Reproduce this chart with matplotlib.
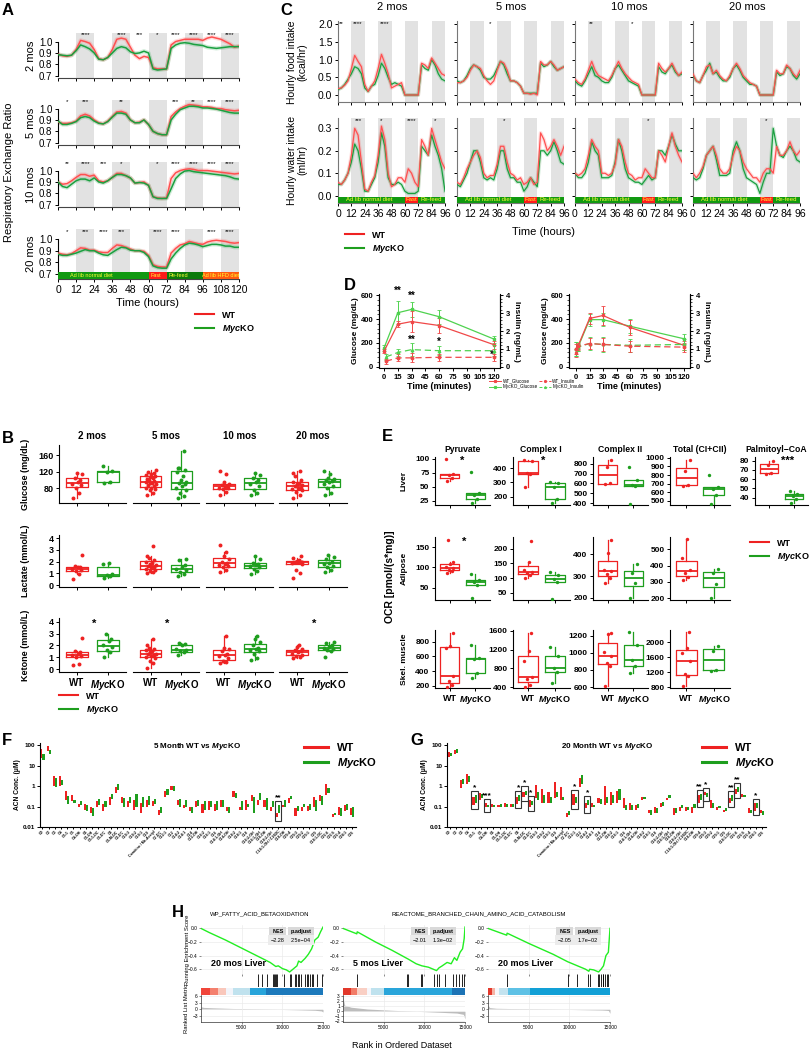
import numpy as np
import matplotlib
matplotlib.use("Agg")
import matplotlib.pyplot as plt
from matplotlib.patches import Rectangle
from matplotlib.lines import Line2D
from matplotlib.ticker import NullLocator, AutoMinorLocator

plt.rcParams['font.family'] = ['Liberation Sans', 'DejaVu Sans']
plt.rcParams['mathtext.fontset'] = 'custom'
plt.rcParams['mathtext.it'] = 'Liberation Sans:italic:bold'
plt.rcParams['mathtext.rm'] = 'Liberation Sans:bold'
plt.rcParams['axes.linewidth'] = 0.8
plt.rcParams['xtick.major.width'] = 0.7
plt.rcParams['ytick.major.width'] = 0.7
plt.rcParams['xtick.major.size'] = 2.5
plt.rcParams['ytick.major.size'] = 2.5
plt.rcParams['xtick.major.pad'] = 1.5
plt.rcParams['ytick.major.pad'] = 1.5

W, H = 811, 1050
fig = plt.figure(figsize=(W / 100, H / 100), dpi=100)

RED = "#ee2222"
GREEN = "#1e9e1e"
RED_L = "#ff5050"
GREEN_L = "#1aa040"
SHADE = "#e2e2e2"
MYC = r"$\it{Myc}$KO"


def px_ax(x0, y0, x1, y1):
    # pixel box (top-left origin) -> axes
    return fig.add_axes([x0 / W, 1 - y1 / H, (x1 - x0) / W, (y1 - y0) / H])


def ftext(x, y, s, **kw):
    fig.text(x / W, 1 - y / H, s, **kw)


def bold_ticks(ax):
    for t in ax.get_xticklabels() + ax.get_yticklabels():
        t.set_fontweight('bold')


def clean(ax, left=True):
    ax.spines['top'].set_visible(False)
    ax.spines['right'].set_visible(False)
    if not left:
        ax.spines['left'].set_visible(False)


# ---------------- data: A (RER, every 3 h) ----------------
t_a = list(range(0, 121, 3))
rer_wt_2 = [0.89, 0.875, 0.87, 0.88, 0.93, 1.01, 1.0, 0.985, 0.93, 0.85,
            0.84, 0.86, 0.93, 1.02, 1.03, 1.02, 0.95, 0.88, 0.85, 0.87,
            0.86, 0.77, 0.76, 0.76, 0.76, 0.97, 1.0, 1.01, 1.02, 1.02,
            1.02, 1.02, 1.01, 1.03, 1.04, 1.03, 1.02, 1.0, 0.98, 0.95, 0.96]
rer_ko_2 = [0.885, 0.88, 0.875, 0.88, 0.92, 0.97, 0.955, 0.935, 0.9, 0.845,
            0.84, 0.86, 0.9, 0.94, 0.955, 0.945, 0.91, 0.895, 0.9, 0.915,
            0.9, 0.76, 0.75, 0.755, 0.76, 0.94, 0.97, 0.985, 0.99, 0.985,
            0.975, 0.97, 0.965, 0.95, 0.945, 0.94, 0.945, 0.95, 0.955, 0.955, 0.955]
rer_wt_5 = [0.88, 0.87, 0.87, 0.875, 0.89, 0.935, 0.95, 0.935, 0.9, 0.875,
            0.865, 0.89, 0.93, 0.97, 0.975, 0.96, 0.9, 0.875, 0.88, 0.9,
            0.86, 0.8, 0.78, 0.77, 0.77, 0.93, 0.97, 1.0, 1.02, 1.035,
            1.03, 1.025, 1.015, 1.015, 1.01, 1.0, 1.0, 0.99, 0.985, 0.98, 0.985]
rer_ko_5 = [0.89, 0.86, 0.86, 0.87, 0.885, 0.92, 0.93, 0.92, 0.89, 0.87,
            0.865, 0.885, 0.925, 0.96, 0.96, 0.95, 0.9, 0.875, 0.875, 0.9,
            0.86, 0.8, 0.78, 0.77, 0.77, 0.9, 0.95, 0.99, 1.005, 1.02,
            1.02, 1.015, 1.005, 1.005, 1.0, 0.995, 0.985, 0.975, 0.965, 0.96, 0.96]
rer_wt_10 = [0.9, 0.88, 0.885, 0.91, 0.94, 0.965, 0.965, 0.95, 0.96, 0.91,
             0.9, 0.91, 0.94, 0.975, 0.975, 0.955, 0.935, 0.89, 0.895, 0.9,
             0.87, 0.77, 0.76, 0.755, 0.76, 0.93, 0.98, 1.0, 1.01, 1.015,
             1.01, 1.0, 1.0, 1.0, 0.995, 0.99, 0.985, 0.98, 0.975, 0.97, 0.975]
rer_ko_10 = [0.9, 0.86, 0.85, 0.88, 0.91, 0.925, 0.925, 0.91, 0.935, 0.9,
             0.89, 0.91, 0.94, 0.965, 0.965, 0.955, 0.935, 0.89, 0.895, 0.89,
             0.87, 0.77, 0.755, 0.755, 0.755, 0.84, 0.93, 0.97, 0.995, 1.0,
             0.99, 0.985, 0.98, 0.975, 0.97, 0.965, 0.96, 0.955, 0.945, 0.93, 0.925]
rer_wt_20 = [0.88, 0.87, 0.865, 0.875, 0.9, 0.925, 0.92, 0.905, 0.905, 0.89,
             0.885, 0.885, 0.92, 0.95, 0.945, 0.93, 0.915, 0.9, 0.9, 0.895,
             0.86, 0.78, 0.765, 0.76, 0.76, 0.88, 0.92, 0.95, 0.96, 0.98,
             0.97, 0.96, 0.955, 0.975, 0.985, 0.99, 0.985, 0.98, 0.97, 0.965, 0.97]
rer_ko_20 = [0.87, 0.86, 0.86, 0.87, 0.88, 0.895, 0.91, 0.9, 0.9, 0.88,
             0.865, 0.86, 0.885, 0.91, 0.93, 0.925, 0.905, 0.9, 0.9, 0.885,
             0.85, 0.77, 0.755, 0.75, 0.75, 0.83, 0.88, 0.92, 0.95, 0.965,
             0.96, 0.95, 0.935, 0.945, 0.955, 0.955, 0.95, 0.94, 0.94, 0.93, 0.93]
stars_a_2 = [(18, '****'), (42, '****'), (54, '***'), (66, '*'), (78, '****'),
             (90, '****'), (102, '****'), (114, '****')]
stars_a_5 = [(6, '*'), (18, '***'), (42, '**'), (78, '***'), (90, '**'),
             (102, '****'), (114, '****')]
stars_a_10 = [(6, '**'), (18, '****'), (30, '***'), (42, '*'), (66, '*'),
              (78, '****'), (90, '****'), (102, '****'), (114, '****')]
stars_a_20 = [(6, '*'), (18, '***'), (30, '****'), (42, '***'), (66, '****'),
              (78, '****'), (102, '****'), (114, '****')]
diet_a = [(0, 60, "Ad lib normal diet", 22, "#119911"), (60, 72, "Fast", 65, "#ff1a1a"),
          (72, 96, "Re-feed", 80, "#0b7a0b"), (96, 120, "Ad lib HFD diet", 108, "#ff5a10")]

# ---------------- data: C (food / water, every 3 h) ----------------
t_c = list(range(0, 97, 3))
food_wt = [
    [0.18, 0.2, 0.28, 0.4, 0.75, 1.12, 0.95, 0.8, 0.3, 0.1,
     0.25, 0.4, 0.75, 1.15, 0.9, 0.6, 0.2, 0.25, 0.3, 0.35,
     0.0, 0.0, 0.0, 0.0, 0.0, 0.9, 0.85, 0.75, 1.05, 0.9, 0.75, 0.6, 0.55],
    [0.35, 0.35, 0.4, 0.5, 0.7, 0.85, 0.8, 0.75, 0.55, 0.4,
     0.3, 0.4, 0.7, 0.95, 0.9, 0.7, 0.4, 0.4, 0.35, 0.25,
     0.05, 0.05, 0.02, 0.05, 0.0, 0.95, 0.85, 0.85, 0.95, 0.85, 0.7, 0.75, 0.8],
    [0.45, 0.35, 0.3, 0.45, 0.7, 0.95, 0.7, 0.55, 0.5, 0.45,
     0.4, 0.55, 0.75, 0.95, 0.75, 0.6, 0.5, 0.4, 0.35, 0.3,
     0.0, 0.0, 0.0, 0.0, 0.0, 0.9, 0.75, 0.65, 0.75, 0.9, 0.7, 0.55, 0.65],
    [0.6, 0.4, 0.35, 0.55, 0.8, 0.85, 0.6, 0.7, 0.55, 0.45,
     0.4, 0.55, 0.75, 0.9, 0.75, 0.55, 0.45, 0.35, 0.3, 0.25,
     0.0, 0.0, 0.0, 0.0, 0.0, 0.7, 0.6, 0.6, 0.85, 0.75, 0.6, 0.5, 0.7]]
food_ko = [
    [0.15, 0.2, 0.3, 0.45, 0.6, 0.8, 0.75, 0.6, 0.2, 0.1,
     0.25, 0.3, 0.55, 0.9, 0.75, 0.5, 0.3, 0.35, 0.3, 0.25,
     0.0, 0.0, 0.0, 0.0, 0.0, 0.85, 0.75, 0.7, 1.0, 0.85, 0.6, 0.45, 0.4],
    [0.4, 0.35, 0.4, 0.55, 0.75, 0.85, 0.8, 0.7, 0.5, 0.45,
     0.45, 0.55, 0.75, 0.95, 0.85, 0.6, 0.4, 0.4, 0.35, 0.25,
     0.05, 0.05, 0.05, 0.05, 0.05, 0.9, 0.8, 0.85, 0.95, 0.8, 0.7, 0.75, 0.8],
    [0.4, 0.3, 0.25, 0.4, 0.6, 0.8, 0.55, 0.5, 0.4, 0.35,
     0.35, 0.5, 0.75, 0.85, 0.7, 0.55, 0.4, 0.35, 0.3, 0.25,
     0.0, 0.0, 0.0, 0.0, 0.0, 0.8, 0.65, 0.6, 0.75, 0.85, 0.65, 0.55, 0.6],
    [0.55, 0.4, 0.35, 0.55, 0.7, 0.9, 0.6, 0.65, 0.5, 0.4,
     0.4, 0.5, 0.75, 0.85, 0.7, 0.5, 0.4, 0.3, 0.3, 0.25,
     0.0, 0.0, 0.0, 0.0, 0.0, 0.65, 0.55, 0.6, 0.8, 0.75, 0.55, 0.45, 0.6]]
water_wt = [
    [0.06, 0.05, 0.07, 0.1, 0.18, 0.3, 0.27, 0.15, 0.03, 0.02,
     0.06, 0.09, 0.18, 0.31, 0.25, 0.1, 0.04, 0.05, 0.08, 0.08,
     0.06, 0.12, 0.1, 0.06, 0.04, 0.25, 0.22, 0.18, 0.3, 0.25, 0.2, 0.15, 0.12],
    [0.06, 0.05, 0.08, 0.12, 0.15, 0.18, 0.2, 0.17, 0.1, 0.08,
     0.09, 0.09, 0.14, 0.22, 0.22, 0.15, 0.1, 0.09, 0.07, 0.08,
     0.05, 0.06, 0.08, 0.05, 0.06, 0.28, 0.25, 0.2, 0.22, 0.25, 0.22, 0.18, 0.22],
    [0.1, 0.09, 0.1, 0.12, 0.18, 0.25, 0.22, 0.2, 0.1, 0.1,
     0.09, 0.1, 0.14, 0.25, 0.22, 0.15, 0.1, 0.09, 0.07, 0.08,
     0.08, 0.12, 0.1, 0.08, 0.08, 0.2, 0.18, 0.15, 0.22, 0.28, 0.22, 0.18, 0.15],
    [0.1, 0.08, 0.1, 0.13, 0.18, 0.2, 0.22, 0.18, 0.12, 0.1,
     0.1, 0.12, 0.18, 0.22, 0.2, 0.15, 0.12, 0.1, 0.08, 0.08,
     0.06, 0.1, 0.12, 0.12, 0.1, 0.22, 0.18, 0.18, 0.2, 0.24, 0.2, 0.18, 0.2]]
water_ko = [
    [0.05, 0.05, 0.07, 0.1, 0.15, 0.23, 0.2, 0.12, 0.02, 0.02,
     0.05, 0.08, 0.15, 0.28, 0.22, 0.08, 0.05, 0.05, 0.06, 0.05,
     0.02, 0.01, 0.01, 0.01, 0.02, 0.22, 0.2, 0.18, 0.27, 0.22, 0.18, 0.12, 0.02],
    [0.05, 0.04, 0.07, 0.1, 0.15, 0.2, 0.2, 0.15, 0.08, 0.07,
     0.08, 0.07, 0.12, 0.2, 0.2, 0.12, 0.08, 0.08, 0.06, 0.06,
     0.02, 0.04, 0.08, 0.06, 0.04, 0.2, 0.2, 0.18, 0.2, 0.24, 0.2, 0.15, 0.14],
    [0.1, 0.08, 0.08, 0.1, 0.15, 0.24, 0.2, 0.18, 0.08, 0.08,
     0.08, 0.09, 0.15, 0.25, 0.2, 0.12, 0.08, 0.07, 0.06, 0.06,
     0.05, 0.07, 0.09, 0.07, 0.08, 0.2, 0.2, 0.18, 0.22, 0.27, 0.23, 0.2, 0.2],
    [0.08, 0.07, 0.08, 0.12, 0.18, 0.2, 0.22, 0.16, 0.09, 0.09,
     0.09, 0.1, 0.2, 0.24, 0.2, 0.12, 0.08, 0.07, 0.06, 0.05,
     0.01, 0.06, 0.1, 0.1, 0.3, 0.22, 0.18, 0.17, 0.2, 0.22, 0.2, 0.16, 0.15]]
stars_food = [[(3, '**'), (18, '****'), (42, '****')], [(30, '*')], [(15, '**'), (51, '*')], []]
stars_water = [[(18, '***'), (39, '*'), (66, '****'), (87, '*')], [(42, '*')], [(66, '*')], [(66, '*')]]
ages = ["2 mos", "5 mos", "10 mos", "20 mos"]
diet_c = [(0, 60, "Ad lib normal diet", 28, "#119911"), (60, 72, "Fast", 66, "#ff1a1a"),
          (72, 96, "Re-feed", 84, "#119911")]

# ---------------- data: D (GTT) ----------------
d_t_L = [0, 15, 30, 60, 120]
glu_wt_L = [130, 357, 379, 346, 185]
glu_wt_L_err = [15, 25, 90, 65, 35]
glu_ko_L = [158, 453, 481, 420, 232]
glu_ko_L_err = [25, 95, 60, 60, 30]
ins_t_L = [2, 15, 30, 60, 120]
ins_wt_L = [0.31, 0.5, 0.5, 0.53, 0.53]
ins_wt_L_err = [0.15, 0.2, 0.25, 0.2, 0.2]
ins_ko_L = [0.55, 0.8, 0.96, 0.9, 0.9]
ins_ko_L_err = [0.15, 0.2, 0.35, 0.25, 0.3]
d_t_R = [0, 2, 15, 30, 60, 120]
glu_wt_R = [115, 170, 405, 430, 330, 180]
glu_wt_R_err = [30, 20, 45, 80, 65, 40]
glu_ko_R = [150, 160, 395, 395, 340, 235]
glu_ko_R_err = [60, 25, 50, 55, 60, 40]
ins_wt_R = [1.0, 1.15, 1.3, 1.25, 1.15, 1.1]
ins_wt_R_err = [0.3, 0.2, 0.3, 0.35, 0.3, 0.25]
ins_ko_R = [1.0, 1.1, 1.3, 1.25, 1.2, 1.25]
ins_ko_R_err = [0.4, 0.2, 0.35, 0.4, 0.35, 0.3]
stars_d = [(15, 636, '**'), (30, 591, '**'), (30, 227, '**'), (60, 205, '*'), (118, 97, '*')]

# ---------------- data: B (blood metabolites) ----------------
b_glu_wt = [[58, 68, 82, 88, 90, 95, 100, 105, 115, 118],
            [65, 70, 75, 78, 80, 82, 85, 88, 90, 92, 94, 96, 98, 100, 102, 105, 108, 110, 112, 115, 118, 120, 125],
            [65, 72, 78, 80, 82, 84, 86, 88, 90, 95, 115, 122],
            [58, 65, 72, 75, 78, 80, 82, 85, 88, 90, 93, 95, 100, 110, 118, 122]]
b_glu_ko = [[92, 95, 120, 122, 133],
            [58, 62, 70, 75, 80, 85, 90, 92, 95, 100, 110, 120, 125, 128, 130, 170],
            [65, 70, 75, 85, 90, 95, 100, 105, 112, 118],
            [65, 70, 80, 85, 90, 95, 98, 100, 102, 105, 115, 122]]
b_lac_wt = [[0.5, 0.9, 1.2, 1.3, 1.4, 1.5, 1.5, 1.6, 2.6],
            [1.0, 1.1, 1.2, 1.3, 1.4, 1.5, 1.5, 1.6, 1.7, 1.8, 1.9, 2.0, 2.1, 2.3, 2.5, 3.3],
            [1.1, 1.3, 1.5, 1.6, 1.7, 1.8, 1.9, 2.0, 2.2, 2.5, 2.8, 3.4],
            [0.6, 1.0, 1.3, 1.8, 1.9, 1.95, 2.0, 2.0, 2.0, 2.05, 2.1, 2.3, 2.5]]
b_lac_ko = [[0.6, 0.75, 0.85, 0.9, 1.8, 1.9],
            [0.8, 0.9, 1.1, 1.3, 1.4, 1.5, 1.7, 2.1, 2.2],
            [0.9, 1.2, 1.4, 1.5, 1.6, 1.7, 1.8, 1.9, 2.2, 2.5],
            [1.1, 1.3, 1.5, 1.6, 1.8, 1.9, 2.0, 2.2, 2.4, 2.6]]
b_ket_wt = [[0.3, 0.4, 1.0, 1.1, 1.2, 1.3, 1.4, 1.5, 2.6],
            [0.1, 0.5, 0.7, 0.9, 1.0, 1.1, 1.2, 1.3, 1.3, 1.4, 1.5, 1.6, 1.7, 1.8, 2.0, 2.5],
            [0.5, 0.6, 0.7, 0.9, 1.1, 1.2, 1.3, 1.5, 1.7, 1.8, 2.8],
            [0.9, 1.0, 1.1, 1.2, 1.3, 1.4, 1.5, 1.6, 1.7, 1.9, 2.0]]
b_ket_ko = [[1.0, 1.4, 1.6, 1.9, 2.0, 2.4, 2.5, 3.0],
            [1.2, 1.4, 1.5, 1.6, 1.7, 2.0, 2.1, 2.2],
            [0.8, 0.9, 1.3, 1.5, 1.6, 1.7, 1.8, 2.0, 2.3, 2.5, 2.8],
            [1.0, 1.5, 1.6, 1.7, 1.8, 1.9, 2.0, 2.2, 2.3]]
b_ket_stars = [(0, '*'), (1, '*'), (3, '*')]

# ---------------- data: E (OCR) ----------------
e_subs = ["Pyruvate", "Complex I", "Complex II", "Total (CI+CII)", "Palmitoyl\u2212CoA"]
e_liver_wt = [[60, 65, 70, 72, 99], [270, 360, 365, 450, 460], [590, 600, 770, 840],
              [675, 685, 845, 980], [66, 67, 75, 80]]
e_liver_ko = [[20, 28, 35, 38, 77], [155, 180, 265, 295, 305], [390, 570, 580, 640, 770],
              [460, 570, 640, 660, 805], [34, 39, 42, 44, 47]]
e_adip_wt = [[87, 92, 95, 98, 100, 108, 113, 168], [100, 112, 118, 122, 128, 155, 228],
             [270, 290, 310, 325, 330, 405, 465], [310, 330, 355, 375, 445, 560]]
e_adip_ko = [[25, 58, 65, 70, 85], [30, 85, 95, 112, 120], [200, 270, 315, 355], [200, 290, 355, 380]]
e_musc_wt = [[180, 210, 260, 340, 720, 740, 920], [400, 440, 580, 620, 950, 1180, 1560],
             [610, 850, 880, 960, 1010, 1220, 1230], [840, 1100, 1150, 1500, 1720, 1860, 2280]]
e_musc_ko = [[300, 380, 560, 580, 750], [490, 720, 800, 1060, 1260], [760, 850, 920, 1090, 1240],
             [1230, 1270, 1780, 1900]]
e_liver_ticks = [[25, 50, 75, 100], [200, 300, 400], [400, 500, 600, 700, 800],
                 [500, 600, 700, 800, 900, 1000], [40, 50, 60, 70, 80]]
e_liver_lim = [(17, 103), (140, 480), (380, 870), (450, 1010), (32, 84)]
e_adip_ticks = [[50, 100, 150], [50, 100, 150, 200], [200, 300, 400], [200, 300, 400, 500]]
e_adip_lim = [(20, 175), (25, 240), (190, 480), (190, 575)]
e_musc_ticks = [[200, 400, 600, 800], [400, 800, 1200, 1600], [600, 800, 1000, 1200], [800, 1200, 1600, 2000]]
e_musc_lim = [(170, 960), (380, 1620), (590, 1265), (780, 2330)]
e_liver_stars = [(0, 1.5, '*'), (1, 1.55, '*'), (4, 1.75, '***')]
e_adip_stars = [(0, 1.55, '*')]

# ---------------- data: F / G (acylcarnitines) ----------------
acn_names = ["C0", "C2", "C3", "C4", "C5:1", "C5", "C4-OH", "C6", "C5-OH", "C5:1-DC",
             "C5-DC", "C8", "C5-M-DC", "C3-DC", "C10:3", "C10:2", "C10:1", "C10",
             "Carnitine / Me-Acetyl", "C7-DC", "C12:1", "C12", "C14:2", "C14:1", "C14",
             "C12-OH", "C16:2", "C16:1", "C16", "C14:1-OH", "C14-OH", "C18:2", "C18:1",
             "C18", "C16:2-OH", "C16:1-OH", "C16-OH", "C18:2-OH", "C18:1-OH / C16DC",
             "C18-OH", "C20:4", "C20:3", "C20:2", "C20:1", "C20", "C18:1-DC", "C22:6",
             "C22:5", "C22:4", "C24:1", "C26"]
f_red_lo = [24, 50, 1.0, 1.0, 0.2, 0.18, 0.1, 0.07, 0.05, 0.09, 0.06, 0.12, 0.45, 0.15, 0.09,
            0.07, 0.05, 0.09, 0.11, 0.04, 0.3, 0.65, 0.12, 0.08, 0.06, 0.1, 0.05, 0.07, 0.06,
            0.09, 0.06, 0.3, 0.07, 0.07, 0.18, 0.12, 0.09, 0.06, 0.03, 0.09, 0.15, 0.035,
            0.06, 0.06, 0.1, 0.18, 0.38, 0.03, 0.04, 0.06, 0.04]
f_red_hi = [61, 90, 3.2, 3.0, 0.55, 0.38, 0.14, 0.14, 0.09, 0.18, 0.14, 0.3, 0.9, 0.3, 0.18,
            0.2, 0.15, 0.2, 0.18, 0.07, 0.55, 1.0, 0.2, 0.12, 0.1, 0.18, 0.14, 0.18, 0.13,
            0.2, 0.1, 0.55, 0.09, 0.2, 0.38, 0.2, 0.2, 0.1, 0.05, 0.12, 0.25, 0.08,
            0.1, 0.11, 0.3, 0.38, 1.2, 0.045, 0.1, 0.12, 0.08]
f_grn_lo = [18, 35, 0.9, 1.1, 0.14, 0.15, 0.12, 0.06, 0.035, 0.12, 0.09, 0.22, 0.65, 0.1, 0.15,
            0.09, 0.1, 0.12, 0.14, 0.05, 0.37, 0.6, 0.09, 0.09, 0.05, 0.11, 0.07, 0.09, 0.07,
            0.1, 0.05, 0.26, 0.07, 0.09, 0.05, 0.2, 0.07, 0.09, 0.05, 0.1, 0.22, 0.06,
            0.09, 0.07, 0.06, 0.12, 0.45, 0.04, 0.035, 0.07, 0.03]
f_grn_hi = [35, 60, 2.5, 2.0, 0.33, 0.2, 0.18, 0.12, 0.08, 0.22, 0.18, 0.42, 1.2, 0.26, 0.3,
            0.42, 0.3, 0.33, 0.22, 0.1, 0.7, 0.95, 0.22, 0.2, 0.09, 0.2, 0.18, 0.18, 0.18,
            0.2, 0.1, 0.45, 0.18, 0.14, 0.3, 0.45, 0.26, 0.18, 0.12, 0.2, 0.33, 0.11,
            0.14, 0.14, 0.2, 0.33, 0.8, 0.05, 0.08, 0.14, 0.1]
f_boxes = [(38, '**')]
g_red_lo = [25, 35, 0.8, 1.3, 0.12, 0.2, 0.1, 0.09, 0.09, 0.09, 0.09, 0.13, 0.3, 0.1, 0.25,
            0.15, 0.15, 0.25, 0.2, 0.03, 0.12, 0.9, 0.08, 0.1, 0.15, 0.12, 0.12, 0.15, 0.08,
            0.07, 0.07, 0.2, 0.05, 0.05, 0.1, 0.2, 0.04, 0.06, 0.06, 0.05, 0.15, 0.35,
            0.08, 0.07, 0.055, 0.15, 0.4, 0.3, 0.05, 0.06, 0.05]
g_red_hi = [45, 60, 2.0, 4.0, 0.3, 0.45, 0.15, 0.13, 0.12, 0.15, 0.13, 0.3, 0.5, 0.2, 1.1,
            0.7, 0.5, 1.5, 0.9, 0.05, 0.4, 2.5, 0.15, 0.15, 0.25, 1.0, 0.5, 0.6, 0.25,
            0.15, 0.12, 0.3, 0.07, 0.1, 0.15, 0.25, 0.08, 0.1, 0.1, 0.1, 0.35, 0.5,
            0.2, 0.1, 0.07, 0.25, 0.7, 0.4, 0.08, 0.15, 0.07]
g_grn_lo = [28, 40, 1.2, 1.5, 0.15, 0.25, 0.09, 0.09, 0.1, 0.1, 0.1, 0.18, 0.35, 0.12, 0.2,
            0.15, 0.15, 0.3, 0.2, 0.04, 0.15, 1.2, 0.12, 0.09, 0.13, 0.15, 0.15, 0.2, 0.07,
            0.07, 0.08, 0.22, 0.04, 0.05, 0.11, 0.25, 0.05, 0.08, 0.07, 0.08, 0.2, 0.3,
            0.08, 0.08, 0.06, 0.18, 0.5, 0.3, 0.05, 0.08, 0.04]
g_grn_hi = [40, 65, 2.3, 3.0, 0.35, 0.4, 0.12, 0.12, 0.13, 0.14, 0.14, 0.35, 0.6, 0.18, 0.5,
            0.35, 0.3, 0.5, 0.3, 0.06, 0.3, 3.5, 0.2, 0.12, 0.22, 0.3, 0.35, 0.7, 0.12,
            0.12, 0.13, 0.3, 0.07, 0.08, 0.16, 0.35, 0.08, 0.12, 0.1, 0.14, 0.4, 0.45,
            0.15, 0.11, 0.08, 0.35, 0.9, 0.38, 0.07, 0.15, 0.06]
g_boxes = [(4, '*'), (6, '***'), (11, '*'), (12, '*'), (13, '*'), (20, '*'), (22, '*'),
           (40, '**'), (41, '*'), (45, '**'), (46, '**'), (49, '*')]

# ---------------- data: H (GSEA) ----------------
gsea_titles = ["WP_FATTY_ACID_BETAOXIDATION", "REACTOME_BRANCHED_CHAIN_AMINO_ACID_CATABOLISM", ""]
gsea_tags = ["20 mos Liver", "5 mos Liver", "20 mos Liver"]
gsea_nes = ["\u22122.28", "\u22122.01", "\u22122.05"]
gsea_padj = ["2.5e\u221204", "1.3e\u221202", "1.7e\u221202"]
es_x = [[0, 1000, 3000, 5000, 7000, 8500, 9200, 9500, 10000, 10500, 10900, 11300, 11800, 12000,
         12300, 12800, 13200, 13600, 14000, 14400, 14700, 15000],
        [0, 1700, 1750, 4000, 6000, 8000, 9000, 9700, 10500, 11500, 11800, 12200, 12800, 13300,
         13700, 14000, 14400, 14700, 14900, 15000],
        [0, 2300, 2350, 5000, 8000, 9800, 10000, 11000, 12000, 12400, 12500, 13000, 13600, 13900,
         14200, 14500, 14800, 15000]]
es_y = [[0.0, -0.06, -0.17, -0.29, -0.41, -0.5, -0.56, -0.55, -0.59, -0.61, -0.64, -0.6, -0.55,
         -0.48, -0.5, -0.44, -0.38, -0.3, -0.17, -0.13, -0.05, 0.02],
        [0.0, -0.08, -0.05, -0.2, -0.32, -0.45, -0.52, -0.55, -0.57, -0.62, -0.58, -0.55, -0.5,
         -0.52, -0.43, -0.47, -0.35, -0.3, -0.15, 0.02],
        [0.0, -0.1, -0.07, -0.22, -0.38, -0.49, -0.5, -0.55, -0.6, -0.63, -0.6, -0.61, -0.64,
         -0.6, -0.55, -0.4, -0.35, 0.0]]
hits = [[7050, 7500, 8150, 8800, 9000, 9100, 9200, 9300, 10200, 11000, 11100, 11500, 11700,
         11900, 12100, 12300, 12800, 13000, 13200, 13400, 13600, 13800, 14300, 14900],
        [1700, 7900, 8000, 9600, 9700, 11200, 11500, 11800, 12600, 13500, 13900, 14300, 14600, 14900],
        [2300, 9800, 11000, 12300, 12500, 13500, 13700, 13900, 14100, 14200, 14400, 14600, 14800, 15000]]
cbar = [[(0, 1100, '#f0453a'), (1100, 2100, '#f4806e'), (2100, 3100, '#f9c7bb'), (3100, 3950, '#f2f4fa'),
         (3950, 6000, '#c0e2ee'), (6000, 8050, '#27a4da'), (8050, 15000, '#1c79bb')],
        [(0, 950, '#e2382b'), (950, 1700, '#f27c68'), (1700, 2900, '#f9cfc4'), (2900, 3400, '#f6f6fb'),
         (3400, 5000, '#bfe2ee'), (5000, 13400, '#29a5da'), (13400, 15000, '#1c73b5')],
        [(0, 480, '#e43a2d'), (480, 900, '#f6b3a5'), (900, 1350, '#f7f7fb'), (1350, 2500, '#c3e3ef'),
         (2500, 5200, '#5ec1e5'), (5200, 15000, '#12a0d6')]]
rank_x = [[0, 300, 1500, 4000, 7000, 9500, 12000, 14000, 14800, 15000],
          [0, 200, 1000, 3000, 6000, 9000, 12000, 14000, 14800, 15000],
          [0, 200, 1000, 4000, 8000, 11000, 14000, 14500, 14800, 15000]]
rank_y = [[1.2, 0.9, 0.7, 0.4, 0.2, 0.0, -0.2, -0.4, -0.7, -1.2],
          [2.8, 1.2, 0.8, 0.45, 0.2, 0.0, -0.2, -0.35, -0.6, -1.5],
          [2.0, 0.8, 0.5, 0.3, 0.1, -0.1, -0.3, -0.4, -0.5, -1.8]]
rank_ticks = [[-3, 0, 3, 6], [-2, -1, 0, 1, 2, 3], [-3, 0, 3, 6]]
rank_lim = [(-5.7, 6.5), (-2.1, 3.2), (-5.7, 6.5)]


def legend_wt_ko(x, y, size=7.5, lw=1.5, gap=0.4):
    hs = [Line2D([], [], color=RED, lw=lw), Line2D([], [], color=GREEN, lw=lw)]
    fig.legend(hs, ["WT", MYC], loc='upper left', bbox_to_anchor=(x / W, 1 - y / H),
               frameon=False, prop={'weight': 'bold', 'size': size}, handlelength=2.2,
               labelspacing=gap, borderpad=0, handletextpad=0.8)


# ======================= A =======================
ftext(2, 3, "A", fontsize=12, weight='bold', va='top')
A_pos = [(33, 78), (100, 145), (162, 207), (229, 279)]
A_sets = [("2 mos", rer_wt_2, rer_ko_2, stars_a_2), ("5 mos", rer_wt_5, rer_ko_5, stars_a_5),
          ("10 mos", rer_wt_10, rer_ko_10, stars_a_10), ("20 mos", rer_wt_20, rer_ko_20, stars_a_20)]
for k, (lab, wt, ko, stars) in enumerate(A_sets):
    y0, y1 = A_pos[k]
    ax = px_ax(58, y0, 239, y1)
    last = k == 3
    ax.set_xlim(0, 120)
    ax.set_ylim((0.657, 1.087) if last else (0.68, 1.075))
    for s in (12, 36, 60, 84, 108):
        ax.axvspan(s, s + 12, color=SHADE, lw=0, zorder=0)
    ax.plot(t_a, wt, color=RED_L, lw=3, alpha=0.2, zorder=2)
    ax.plot(t_a, ko, color=GREEN_L, lw=3, alpha=0.2, zorder=2)
    ax.plot(t_a, wt, color=RED_L, lw=1.1, zorder=3)
    ax.plot(t_a, ko, color=GREEN_L, lw=1.1, zorder=3)
    for x, s in stars:
        ax.text(x, 1.058 if not last else 1.066, s, ha='center', va='center', fontsize=4.5)
    if last:
        for a, b, txt, xc, col in diet_a:
            ax.add_patch(Rectangle((a, 0.657), b - a, 0.063, color=col, lw=0, zorder=4))
            ax.text(xc, 0.6885, txt, color='#ffff33', fontsize=4.0, ha='center', va='center', zorder=5)
    ax.set_yticks([0.7, 0.8, 0.9, 1.0])
    ax.set_yticklabels(["0.7", "0.8", "0.9", "1.0"], fontsize=7)
    ax.set_xticks(range(0, 121, 12))
    ax.tick_params(axis='x', labelsize=7.5)
    if not last:
        ax.set_xticklabels([])
    ax.spines['top'].set_visible(False)
    ax.spines['right'].set_visible(False)
    ax.spines['left'].set_bounds(0.7, 1.0)
    ax.spines['bottom'].set_color('#444444')
    ax.set_ylabel(lab, fontsize=8, labelpad=2)
ftext(9, 172, "Respiratory Exchange Ratio", rotation=90, fontsize=8, ha='center', va='center')
ftext(148, 303, "Time (hours)", fontsize=8, ha='center', va='center')
legend_wt_ko(190, 306, size=6.5)

# ======================= C =======================
ftext(280, 3, "C", fontsize=12, weight='bold', va='top')
C_x = [338, 457, 575, 693]
for j in range(4):
    x0 = C_x[j]
    ftext(x0 + 54, 7, ages[j], fontsize=8, ha='center', va='center')
    for r in range(2):
        if r == 0:
            ax = px_ax(x0, 21, x0 + 107, 102)
            ax.set_ylim(-0.198, 2.094)
            wt, ko, stars = food_wt[j], food_ko[j], stars_food[j]
            yt = [0, 0.5, 1.0, 1.5, 2.0]
            ylab = ["0.0", "0.5", "1.0", "1.5", "2.0"]
            ys = 2.03
        else:
            ax = px_ax(x0, 118, x0 + 107, 203)
            ax.set_ylim(-0.0325, 0.346)
            wt, ko, stars = water_wt[j], water_ko[j], stars_water[j]
            yt = [0, 0.1, 0.2, 0.3]
            ylab = ["0.0", "0.1", "0.2", "0.3"]
            ys = 0.333
        ax.set_xlim(0, 96)
        for s in (12, 36, 60, 84):
            ax.axvspan(s, s + 12, color=SHADE, lw=0, zorder=0)
        ax.plot(t_c, wt, color=RED_L, lw=2.6, alpha=0.2, zorder=2)
        ax.plot(t_c, ko, color=GREEN_L, lw=2.6, alpha=0.2, zorder=2)
        ax.plot(t_c, ko, color=GREEN_L, lw=0.9, zorder=3)
        ax.plot(t_c, wt, color=RED_L, lw=0.9, zorder=3)
        for x, s in stars:
            ax.text(x, ys, s, ha='center', va='center', fontsize=4.5)
        if r == 1:
            for a, b, txt, xc, col in diet_c:
                ax.add_patch(Rectangle((a, -0.0325), b - a, 0.0275, color=col, lw=0, zorder=4))
                ax.text(xc, -0.0188, txt, color='#ffff33', fontsize=4.3, ha='center', va='center', zorder=5)
        ax.set_yticks(yt)
        ax.set_xticks(range(0, 97, 12))
        if j == 0:
            ax.set_yticklabels(ylab, fontsize=7.5)
        else:
            ax.set_yticklabels([])
        if r == 0:
            ax.set_xticklabels([])
        else:
            ax.tick_params(axis='x', labelsize=7.5)
        clean(ax)
        ax.spines['left'].set_color('#777777')
        ax.spines['bottom'].set_color('#777777')
ftext(297, 62, "Hourly food intake\n(kcal/hr)", rotation=90, fontsize=7.5, ha='center', va='center',
      linespacing=1.0)
ftext(297, 160, "Hourly water intake\n(ml/hr)", rotation=90, fontsize=7.5, ha='center', va='center',
      linespacing=1.0)
ftext(543, 232, "Time (hours)", fontsize=8, ha='center', va='center')
legend_wt_ko(340, 226, size=6.5)

# ======================= D =======================
ftext(344, 278, "D", fontsize=12, weight='bold', va='top')
D_RED = "#f04848"
D_GRN = "#4fd24f"


def gtt_panel(x0, x1, xl, tg, gw, gwe, gk, gke, ti, iw, iwe, ik, ike, stars):
    ax = px_ax(x0, 294, x1, 368)
    ax.set_xlim(*xl)
    ax.set_ylim(-10, 610)
    kw = dict(lw=0.9, ms=1.8, elinewidth=0.7, capsize=1.2, capthick=0.6)
    ax.errorbar(tg, gk, yerr=gke, color=D_GRN, marker='s', **kw)
    ax.errorbar(tg, gw, yerr=gwe, color=D_RED, marker='s', **kw)
    ax2 = ax.twinx()
    ax2.set_ylim(-10 / 150, 610 / 150)
    ax2.errorbar(ti, ik, yerr=ike, color=D_GRN, marker='^', ls=(0, (5, 3)), **kw)
    ax2.errorbar(ti, iw, yerr=iwe, color=D_RED, marker='o', ls=(0, (5, 3)), **kw)
    for x, y, s in stars:
        ax.text(x, y, s, ha='center', va='center', fontsize=7, weight='bold', clip_on=False)
    ax.set_yticks([0, 200, 400, 600])
    ax.yaxis.set_minor_locator(AutoMinorLocator(5))
    ax.set_xticks(range(0, 121, 15))
    ax.tick_params(labelsize=5.5)
    ax2.set_yticks([0, 1, 2, 3, 4])
    ax2.yaxis.set_minor_locator(AutoMinorLocator(5))
    ax2.tick_params(labelsize=5.5)
    for a in (ax, ax2):
        a.spines['top'].set_visible(False)
        a.tick_params(which='minor', length=1.2, width=0.5)
        bold_ticks(a)
    ax.spines['left'].set_bounds(0, 600)
    ax2.spines['right'].set_bounds(0, 4)
    ax.spines['bottom'].set_bounds(0, 120)
    ax.set_ylabel("Glucose (mg/dL)", fontsize=6, weight='bold', labelpad=1)
    ax2.set_ylabel("Insulin (ng/mL)", fontsize=6, weight='bold', rotation=270, labelpad=7)
    ax.set_xlabel("Time (minutes)", fontsize=6.5, weight='bold', labelpad=1)
    return ax


gtt_panel(379, 500, (-5.5, 126.5), d_t_L, glu_wt_L, glu_wt_L_err, glu_ko_L, glu_ko_L_err,
          ins_t_L, ins_wt_L, ins_wt_L_err, ins_ko_L, ins_ko_L_err, stars_d)
gtt_panel(569, 690, (-7.8, 126.7), d_t_R, glu_wt_R, glu_wt_R_err, glu_ko_R, glu_ko_R_err,
          d_t_R, ins_wt_R, ins_wt_R_err, ins_ko_R, ins_ko_R_err, [])
d_handles = [Line2D([], [], color=D_RED, marker='s', ms=1.3, lw=0.7),
             Line2D([], [], color=D_GRN, marker='s', ms=1.3, lw=0.7),
             Line2D([], [], color=D_RED, marker='o', ms=1.3, lw=0.7, ls=(0, (3, 2))),
             Line2D([], [], color=D_GRN, marker='^', ms=1.3, lw=0.7, ls=(0, (3, 2)))]
fig.legend(d_handles, ["WT_Glucose", "MycKO_Glucose", "WT_Insulin", "MycKO_Insulin"], ncol=2,
           loc='upper left', bbox_to_anchor=(487 / W, 1 - 376 / H), frameon=False, fontsize=3.3,
           handlelength=2.6, columnspacing=0.3, labelspacing=0.25, borderpad=0, handletextpad=0.3)

# ======================= B =======================
ftext(2, 431, "B", fontsize=12, weight='bold', va='top')
B_cols = [(59, 126), (133, 199), (206, 273), (279, 347)]
B_rows = [(445, 503, (45, 184), [80, 120, 160], b_glu_wt, b_glu_ko, "Glucose (mg/dL)", 474),
          (535, 587, (-0.17, 4.28), [0, 1, 2, 3, 4], b_lac_wt, b_lac_ko, "Lactate (mmol/L)", 561),
          (618, 672, (-0.25, 4.31), [0, 1, 2, 3, 4], b_ket_wt, b_ket_ko, "Ketone (mmol/L)", 645)]
JIT = [-0.12, 0.08, -0.04, 0.14, -0.16, 0.02, 0.11, -0.08, 0.16, -0.01, 0.05, -0.14, 0.12, -0.06]


def box_pair(ax, wt, ko, width, ms=7):
    for pos, vals, col in ((1, wt, RED), (2, ko, GREEN)):
        ax.boxplot([vals], positions=[pos], widths=width, showfliers=False, showcaps=False,
                   patch_artist=False,
                   boxprops=dict(color=col, lw=0.9), medianprops=dict(color=col, lw=1.3),
                   whiskerprops=dict(color=col, lw=0.9))
        xs = [pos + JIT[i % len(JIT)] for i in range(len(vals))]
        ax.scatter(xs, vals, s=ms, color=col, lw=0, zorder=4)


for r, (y0, y1, yl, yt, dwt, dko, ylab, ylab_y) in enumerate(B_rows):
    for j, (x0, x1) in enumerate(B_cols):
        ax = px_ax(x0, y0, x1, y1)
        box_pair(ax, dwt[j], dko[j], 0.7, ms=8)
        ax.set_xlim(0.42, 2.58)
        ax.set_ylim(*yl)
        ax.set_xticks([1, 2])
        ax.set_yticks(yt)
        ax.tick_params(labelsize=6.5)
        if r == 2:
            ax.set_xticklabels(["WT", MYC], fontsize=7, weight='bold')
        else:
            ax.set_xticklabels([])
        clean(ax, left=(j == 0))
        if j != 0:
            ax.tick_params(axis='y', left=False, labelleft=False)
        bold_ticks(ax)
        if r == 0:
            ftext((x0 + x1) / 2, 436, ages[j], fontsize=7, weight='bold', ha='center', va='center')
        if r == 2:
            for jj, s in b_ket_stars:
                if jj == j:
                    ax.text(1.55, 3.85, s, fontsize=8, weight='bold', ha='center', va='center')
    ftext(25, ylab_y, ylab, rotation=90, fontsize=6.5, weight='bold', ha='center', va='center')
legend_wt_ko(54, 687, size=6.5)

# ======================= E =======================
ftext(382, 429, "E", fontsize=12, weight='bold', va='top')
E_cols = [(435, 490), (513, 570), (593, 648), (670, 730), (755, 808)]
E_rows = [(457, 505, e_liver_wt, e_liver_ko, e_liver_ticks, e_liver_lim, e_liver_stars, "Liver", 481),
          (537, 600, e_adip_wt, e_adip_ko, e_adip_ticks, e_adip_lim, e_adip_stars, "Adipose", 568),
          (630, 688, e_musc_wt, e_musc_ko, e_musc_ticks, e_musc_lim, [], "Skel. muscle", 659)]
E_title_x = [463, 541, 620, 700, 776]
for r, (y0, y1, dwt, dko, ticks, lims, stars, rlab, rly) in enumerate(E_rows):
    for j in range(len(dwt)):
        x0, x1 = E_cols[j]
        ax = px_ax(x0, y0, x1, y1)
        box_pair(ax, dwt[j], dko[j], 0.75, ms=6)
        ax.set_xlim(0.42, 2.58)
        ax.set_ylim(*lims[j])
        ax.set_yticks(ticks[j])
        ax.set_xticks([1, 2])
        ax.tick_params(labelsize=6)
        if r == 2:
            ax.set_xticklabels(["WT", MYC], fontsize=6.5, weight='bold')
        else:
            ax.set_xticklabels([])
        clean(ax)
        bold_ticks(ax)
        for jj, xs, s in stars:
            if jj == j:
                lo, hi = lims[j]
                ax.text(xs, lo + 0.93 * (hi - lo), s, fontsize=8, weight='bold', ha='center', va='center')
        if r == 0:
            ftext(E_title_x[j], 450, e_subs[j], fontsize=6.2, weight='bold', ha='center', va='center')
    ftext(404, rly, rlab, rotation=90, fontsize=6, weight='bold', ha='center', va='center')
ftext(390, 577, "OCR [pmol/(s*mg)]", rotation=90, fontsize=7.5, weight='bold', ha='center', va='center')
legend_wt_ko(745, 534, size=6.5)

# ======================= F / G =======================


def acn_panel(x0, x1, rlo, rhi, glo, ghi, boxes, title, title_x):
    ax = px_ax(x0, 743, x1, 827)
    idx = np.arange(len(acn_names))
    rlo, rhi, glo, ghi = map(np.array, (rlo, rhi, glo, ghi))
    ax.bar(idx - 0.17, rhi - rlo, bottom=rlo, width=0.34, color=RED, lw=0)
    ax.bar(idx + 0.17, ghi - glo, bottom=glo, width=0.34, color=GREEN, lw=0)
    ax.set_yscale('log')
    ax.set_ylim(0.01, 126)
    ax.set_xlim(-0.4, len(idx) - 0.4)
    ax.yaxis.set_minor_locator(NullLocator())
    ax.set_yticks([0.01, 0.1, 1, 10, 100])
    ax.set_yticklabels(["0.01", "0.1", "1", "10", "100"], fontsize=4.5, weight='bold')
    ax.set_xticks(idx)
    ax.set_xticklabels(acn_names, rotation=45, ha='right', rotation_mode='anchor', fontsize=2.6,
                       weight='bold')
    ax.tick_params(axis='x', length=1.5, pad=0.5)
    ax.tick_params(axis='y', length=2)
    for i, s in boxes:
        lo = min(rlo[i], glo[i]) / 1.6
        hi = max(rhi[i], ghi[i]) * 1.6
        ax.add_patch(Rectangle((i - 0.5, lo), 1.0, hi - lo, fill=False, ec='#333333', lw=0.8, zorder=5))
        ax.text(i, hi * 1.45, s, fontsize=6, weight='bold', ha='center', va='center')
    clean(ax)
    ax.set_ylabel("ACN Conc. (\u03bcM)", fontsize=4.8, weight='bold', labelpad=1)
    ftext(title_x, 747, title, fontsize=5.8, weight='bold', ha='center', va='center')


ftext(2, 733, "F", fontsize=12, weight='bold', va='top')
acn_panel(40, 356, f_red_lo, f_red_hi, f_grn_lo, f_grn_hi, f_boxes,
          "5 Month WT vs " + MYC, 197)
legend_wt_ko(298, 737, size=8, lw=2.2, gap=0.3)
ftext(410, 733, "G", fontsize=12, weight='bold', va='top')
acn_panel(447, 766, g_red_lo, g_red_hi, g_grn_lo, g_grn_hi, g_boxes,
          "20 Month WT vs " + MYC, 607)
legend_wt_ko(696, 737, size=8, lw=2.2, gap=0.3)

# ======================= H =======================
ftext(172, 905, "H", fontsize=12, weight='bold', va='top')
H_x = [(201, 323), (343, 465), (488, 610)]
for k, (x0, x1) in enumerate(H_x):
    a1 = px_ax(x0, 925, x1, 974)
    a1.plot(es_x[k], es_y[k], color='#22ee22', lw=1.0)
    a1.set_xlim(0, 15000)
    a1.set_ylim(-0.67, 0.05)
    a1.set_yticks([0.0, -0.2, -0.4, -0.6])
    a1.set_yticklabels(["0.0", "\u22120.2", "\u22120.4", "\u22120.6"], fontsize=3.5)
    a1.set_xticks([5000, 10000, 15000])
    a1.set_xticklabels([])
    a1.grid(color='#ebebeb', lw=0.5)
    a1.tick_params(length=1.2, pad=1, color='#888888')
    for sp in a1.spines.values():
        sp.set_visible(False)
    a1.text(0.63, 0.86, "NES", transform=a1.transAxes, fontsize=4, weight='bold', ha='center',
            va='center', bbox=dict(boxstyle='square,pad=0.5', fc='#d9d9d9', ec='none'))
    a1.text(0.82, 0.86, "p.adjust", transform=a1.transAxes, fontsize=4, weight='bold', ha='center',
            va='center', bbox=dict(boxstyle='square,pad=0.5', fc='#d9d9d9', ec='none'))
    a1.text(0.63, 0.69, gsea_nes[k], transform=a1.transAxes, fontsize=4, ha='center',
            va='center', bbox=dict(boxstyle='square,pad=0.5', fc='#ececec', ec='none'))
    a1.text(0.82, 0.69, gsea_padj[k], transform=a1.transAxes, fontsize=4, ha='center',
            va='center', bbox=dict(boxstyle='square,pad=0.5', fc='#ececec', ec='none'))
    a1.text(0.08, 0.22, gsea_tags[k], transform=a1.transAxes, fontsize=6.5, weight='bold',
            ha='left', va='center')
    a2 = px_ax(x0, 974, x1, 987)
    a2.vlines(hits[k], 0, 1, color='black', lw=0.6)
    a2.set_xlim(0, 15000)
    a2.set_ylim(0, 1)
    a2.axis('off')
    a3 = px_ax(x0, 988, x1, 995)
    for a, b, col in cbar[k]:
        a3.axvspan(a, b, color=col, lw=0)
    a3.set_xlim(0, 15000)
    a3.axis('off')
    a4 = px_ax(x0, 995, x1, 1022)
    a4.fill_between(rank_x[k], rank_y[k], 0, color='#bdbdbd', lw=0)
    a4.set_xlim(0, 15000)
    a4.set_ylim(*rank_lim[k])
    a4.set_yticks(rank_ticks[k])
    a4.set_yticklabels([str(v).replace('-', '\u2212') for v in rank_ticks[k]], fontsize=3.5)
    a4.set_xticks([5000, 10000, 15000])
    a4.set_xticklabels(["5000", "10000", "15000"], fontsize=3.5)
    a4.grid(color='#ebebeb', lw=0.5)
    a4.tick_params(length=1.2, pad=1, color='#888888')
    for sp in a4.spines.values():
        sp.set_visible(False)
    a4.spines['left'].set_visible(True)
    a4.spines['left'].set_color('#333333')
    a4.spines['left'].set_linewidth(0.5)
    a4.spines['bottom'].set_visible(True)
    a4.spines['bottom'].set_color('#333333')
    a4.spines['bottom'].set_linewidth(0.5)
ftext(260, 914, gsea_titles[0], fontsize=4.3, ha='center', va='center')
ftext(479, 914, gsea_titles[1], fontsize=4.3, ha='center', va='center')
ftext(187, 950, "Running Enrichment Score", rotation=90, fontsize=4.2, ha='center', va='center')
ftext(187, 1008, "Ranked List Metric", rotation=90, fontsize=4.2, ha='center', va='center')
ftext(402, 1045, "Rank in Ordered Dataset", fontsize=6.5, ha='center', va='center')

fig.savefig("out.png", dpi=100)
